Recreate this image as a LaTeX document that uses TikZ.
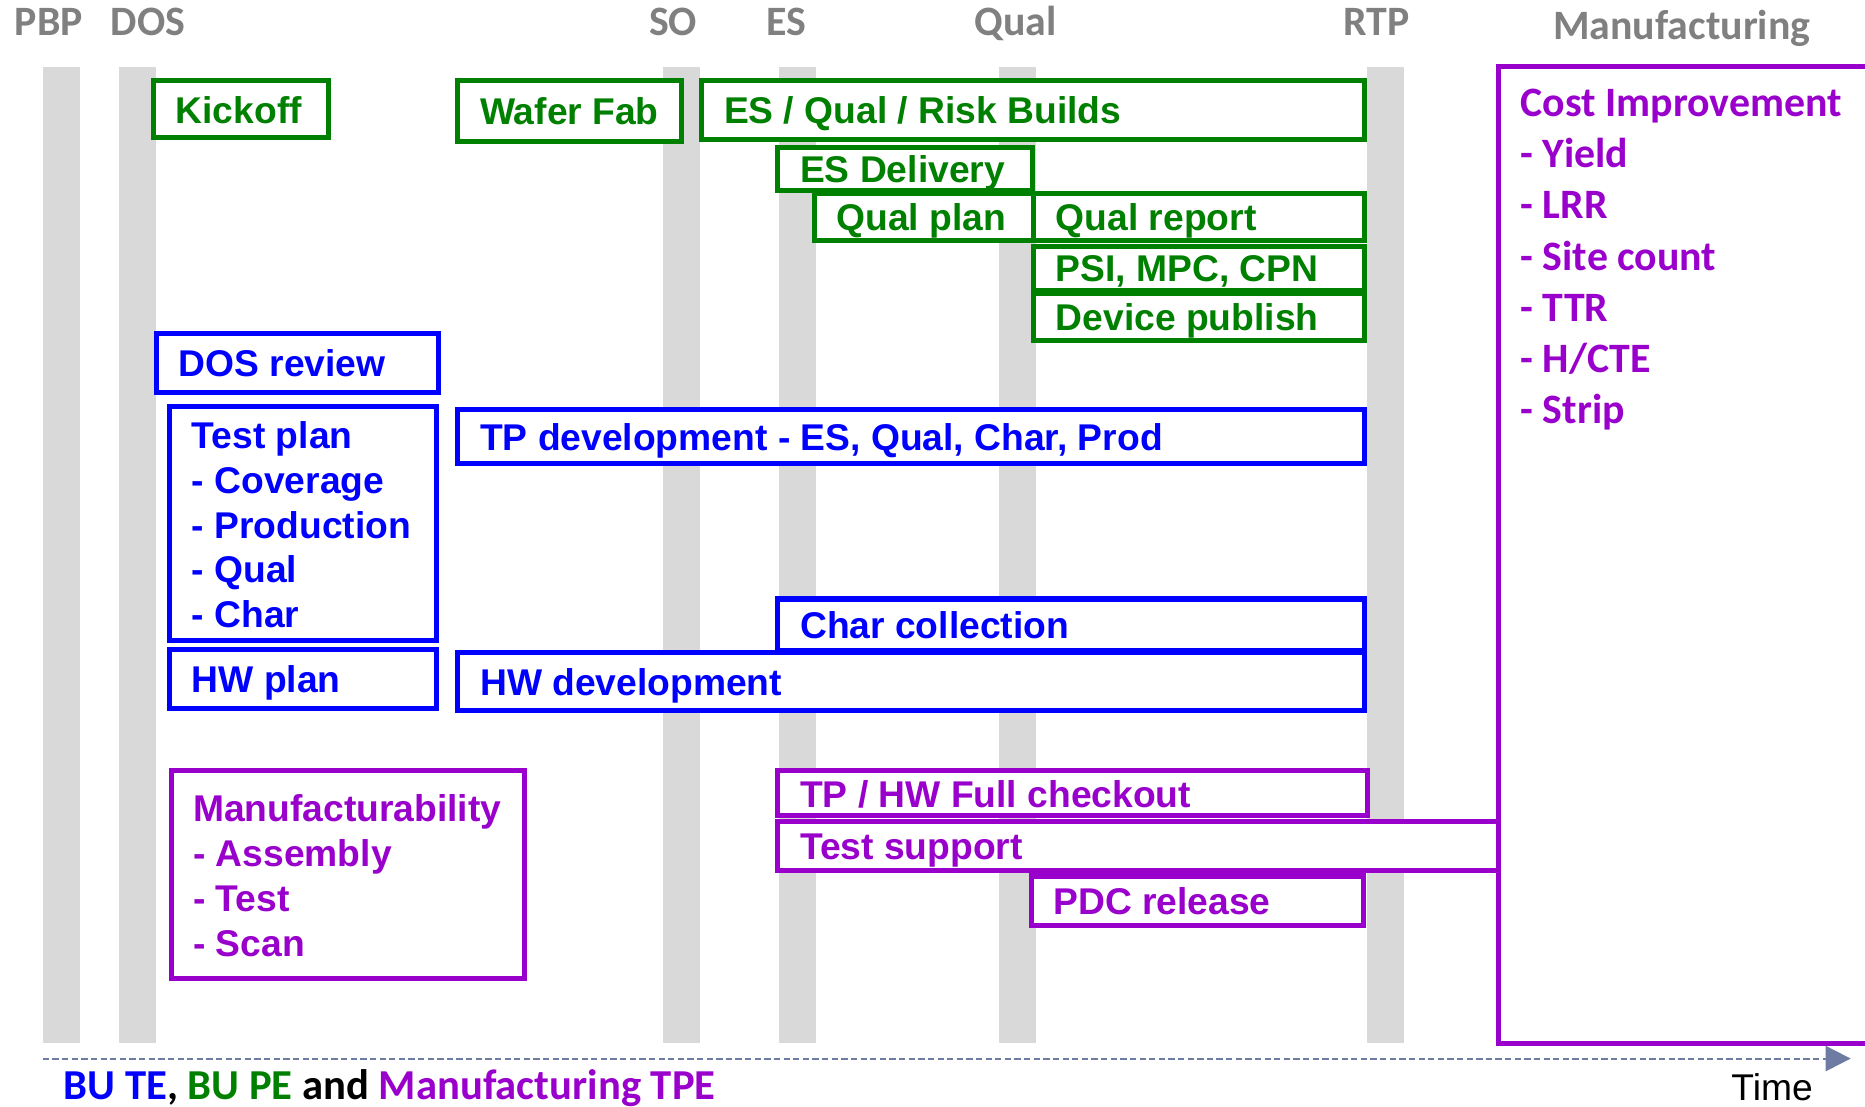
\documentclass[tikz,border=0pt]{standalone}
\usepackage{fontspec}
\setmainfont{Liberation Sans}
\newfontfamily\carl{Carlito}
\usetikzlibrary{arrows.meta}
\definecolor{cgreen}{RGB}{0,128,0}
\definecolor{cblue}{RGB}{0,0,255}
\definecolor{cpurple}{RGB}{153,0,204}
\definecolor{cbar}{RGB}{217,217,217}
\definecolor{clabel}{RGB}{128,128,128}
\definecolor{carrow}{RGB}{110,123,163}
\tikzset{
 phasebar/.style={fill=cbar, draw=none},
 phaselabel/.style={font=\carl\bfseries\fontsize{10}{12}\selectfont, text=clabel, anchor=base, inner sep=0},
 tbox/.style={draw=#1, fill=white, line width=1.2pt},
 ttext/.style={font=\bfseries\fontsize{8.9}{10.7}\selectfont, text=#1, anchor=base west, inner sep=0},
 ctext/.style={font=\carl\bfseries\fontsize{10}{12}\selectfont, text=cpurple, anchor=base west, inner sep=0},
}
\newcommand\taskbox[7]{%
 \draw[tbox=#2] (#3,#4) rectangle (#5,#6);
 \node[ttext=#2] (#1) at ({#3+18},{(#4+#6)/2+11.5}) {#7};
}
\begin{document}
\begin{tikzpicture}[x=0.01cm,y=-0.01cm]
\useasboundingbox (0,0) rectangle (1568,930);
% phase bars
\fill[phasebar] (36,56) rectangle (67,877);
\fill[phasebar] (100,56) rectangle (131,877);
\fill[phasebar] (557.5,56) rectangle (588.5,877);
\fill[phasebar] (655,56) rectangle (686,877);
\fill[phasebar] (840,56) rectangle (871,877);
\fill[phasebar] (1149.5,56) rectangle (1180.5,877);
% phase labels
\node[phaselabel] (lpbp) at (41,30) {PBP};
\node[phaselabel] (ldos) at (124.5,30) {DOS};
\node[phaselabel] (lso) at (566,30) {SO};
\node[phaselabel] (les) at (661.5,30) {ES};
\node[phaselabel] (lqual) at (854,30) {Qual};
\node[phaselabel] (lrtp) at (1157.5,30) {RTP};
\node[phaselabel] (lmfg) at (1414,33.5) {Manufacturing};
% green boxes
\taskbox{kick}{cgreen}{129}{68}{276.5}{116}{Kickoff}
\taskbox{wafer}{cgreen}{385}{68}{573}{119}{Wafer Fab}
\taskbox{esq}{cgreen}{590}{68}{1147.5}{117}{ES / Qual / Risk Builds}
\taskbox{esd}{cgreen}{654}{124}{868}{160}{ES Delivery}
\taskbox{qplan}{cgreen}{684.5}{163}{869}{202}{Qual plan}
\taskbox{qrep}{cgreen}{869}{163}{1147.5}{202}{Qual report}
\taskbox{psi}{cgreen}{869}{207}{1147.5}{244}{PSI, MPC, CPN}
\taskbox{dev}{cgreen}{869}{246.5}{1147.5}{286}{Device publish}
% blue boxes
\taskbox{dosr}{cblue}{131.5}{280}{368.5}{330}{DOS review}
\draw[tbox=cblue] (142.6,342) rectangle (366.7,538.7);
\foreach \t [count=\i from 0] in {Test plan, - Coverage, - Production, - Qual, - Char}
  \node[ttext=cblue] (tp\i) at (160.6,{377+\i*37.7}) {\t};
\taskbox{tpdev}{cblue}{385}{344}{1147}{390}{TP development - ES, Qual, Char, Prod}
\taskbox{char}{cblue}{654}{503.6}{1147}{547}{Char collection}
\taskbox{hwplan}{cblue}{142.6}{545.7}{366.7}{595.3}{HW plan}
\taskbox{hwdev}{cblue}{385}{548.7}{1147}{597.5}{HW development}
% purple boxes
\draw[tbox=cpurple] (144,648) rectangle (440.7,823);
\foreach \t [count=\i from 0] in {Manufacturability, - Assembly, - Test, - Scan}
  \node[ttext=cpurple] (mf\i) at (161.7,{690.8+\i*37.8}) {\t};
\taskbox{tphw}{cpurple}{654}{648}{1149.5}{686}{TP / HW Full checkout}
\taskbox{tsup}{cpurple}{654}{690.8}{1259.5}{732}{Test support}
\taskbox{pdc}{cpurple}{867}{736.5}{1146.5}{777.7}{PDC release}
\draw[draw=cpurple, line width=1.2pt] (1575,56) -- (1259.5,56) -- (1259.5,877) -- (1575,877);
\foreach \t [count=\i from 0] in {Cost Improvement, - Yield, - LRR, - Site count, - TTR, {- H/CTE}, - Strip}
  \node[ctext] (ci\i) at (1277.8,{98+\i*43}) {\t};
% time axis
\coordinate (tstart) at (36,890);
\coordinate (tend) at (1556,890);
\draw[carrow, line width=0.5pt, dash pattern=on 1.5pt off 0.8pt, -{Triangle[length=0.21cm,width=0.21cm]}] (tstart) -- (tend);
\node[ctext, font=\carl\bfseries\fontsize{10.2}{12}\selectfont] (legend) at (53,924) {\textcolor{cblue}{BU TE}\textcolor{black}{,} \textcolor{cgreen}{BU PE} \textcolor{black}{and} \textcolor{cpurple}{Manufacturing TPE}};
\node[font=\fontsize{8.9}{10}\selectfont, anchor=base west, inner sep=0] (time) at (1455,925) {Time};
\end{tikzpicture}
\end{document}
